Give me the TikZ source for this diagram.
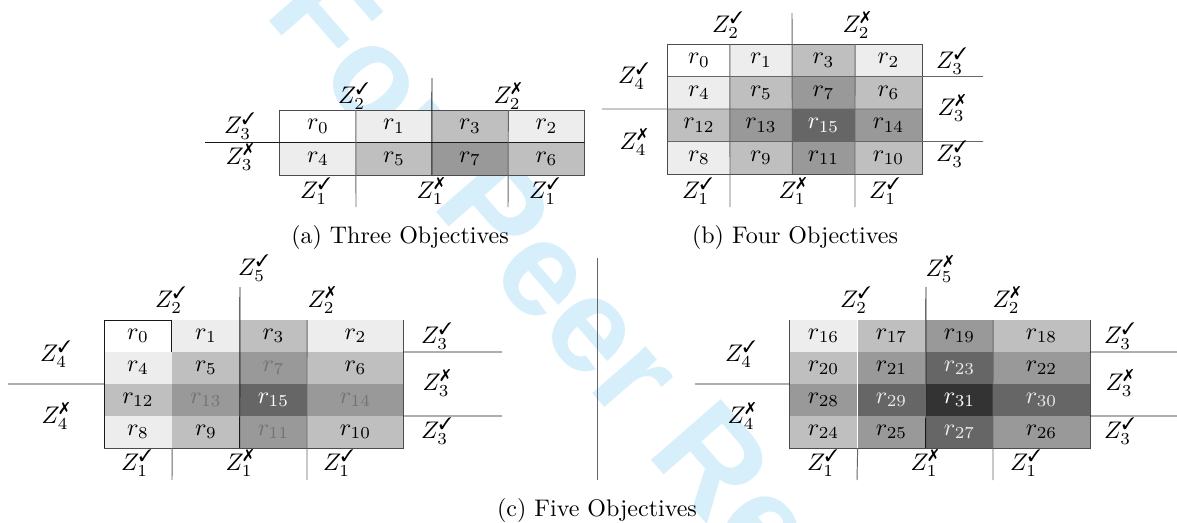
\documentclass[tikz,border=0pt]{standalone}
\usepackage{amsmath,amssymb}
\usepackage{pifont}
\usepackage{fontspec}
\newfontfamily\wmfont{Liberation Sans}
\usepackage{tikz}
\usetikzlibrary{positioning}
\definecolor{wmBlue}{HTML}{D6EFFB}
\newcommand{\cmark}{\text{\ding{51}}}
\newcommand{\xmark}{\text{\ding{55}}}

\begin{document}
\begin{tikzpicture}[
    x=0.4167pt, y=-0.4167pt,
    cell/.style={inner sep=0pt, outer sep=0pt, font=\normalsize},
    ca/.style={cell, minimum width=31.8pt, minimum height=13.54pt},
    cb/.style={cell, minimum width=25.9pt, minimum height=13.54pt},
    cbw/.style={cell, minimum width=27.9pt, minimum height=13.54pt},
    cc/.style={cell, minimum width=28.2pt, minimum height=13.33pt},
    ccw/.style={cell, minimum width=40.4pt, minimum height=13.33pt},
    g0/.style={fill=white},
    g1/.style={fill=black!7},
    g2/.style={fill=black!25},
    g3/.style={fill=black!40},
    g4/.style={fill=black!60, text=white},
    g5/.style={fill=black!80, text=white},
    lab/.style={inner sep=1pt},
    divider/.style={draw=black!90, thin},
    subline/.style={draw=black!60, thin},
    frame/.style={draw=black!70, thin},
    wm/.style={text=wmBlue, font=\wmfont\bfseries\fontsize{56}{56}\selectfont}
  ]
  \useasboundingbox (0,0) rectangle (1177,522);

  % watermark
  \node[wm, rotate=-49, anchor=base west] (wmark) at (258,8) {For Peer Review};

  % (a) three objectives
  \node[ca, g0] (a0) at (318,126.25) {$r_{0}$};
  \node[ca, g1] (a1) at (394,126.25) {$r_{1}$};
  \node[ca, g2] (a3) at (470,126.25) {$r_{3}$};
  \node[ca, g1] (a2) at (546.5,126.25) {$r_{2}$};
  \node[ca, g1] (a4) at (318,158.75) {$r_{4}$};
  \node[ca, g2] (a5) at (394,158.75) {$r_{5}$};
  \node[ca, g3] (a7) at (470,158.75) {$r_{7}$};
  \node[ca, g2] (a6) at (546.5,158.75) {$r_{6}$};
  \draw[frame] (a0.north west) rectangle (a6.south east);

  \coordinate (a-z3) at (205,142.5);
  \coordinate (a-z2) at (432,78);
  \coordinate (a-z1l) at (356,207);
  \coordinate (a-z1r) at (508,207);
  \draw[divider] (a-z3) -- (a2.south east);
  \draw[divider] (a-z2) -- (a7.south west);
  \draw[subline] (a1.north west) -- (a-z1l);
  \draw[subline] (a2.north west) -- (a-z1r);

  \node[lab] (a-l3t) at (240,126) {$Z_3^{\cmark}$};
  \node[lab] (a-l3f) at (240,157) {$Z_3^{\xmark}$};
  \node[lab] (a-l2t) at (354,96) {$Z_2^{\cmark}$};
  \node[lab] (a-l2f) at (508,96) {$Z_2^{\xmark}$};
  \node[lab] (a-l1a) at (316,191) {$Z_1^{\cmark}$};
  \node[lab] (a-l1b) at (431,191) {$Z_1^{\xmark}$};
  \node[lab] (a-l1c) at (545,191) {$Z_1^{\cmark}$};
  \node (capa) at (400,237) {(a) Three Objectives};

  % (b) four objectives
  \node[cb, g0] (b0) at (699,60.25) {$r_{0}$};
  \node[cb, g1] (b1) at (761,60.25) {$r_{1}$};
  \node[cb, g2] (b3) at (823.5,60.25) {$r_{3}$};
  \node[cbw, g1] (b2) at (888.5,60.25) {$r_{2}$};
  \node[cb, g1] (b4) at (699,92.75) {$r_{4}$};
  \node[cb, g2] (b5) at (761,92.75) {$r_{5}$};
  \node[cb, g3] (b7) at (823.5,92.75) {$r_{7}$};
  \node[cbw, g2] (b6) at (888.5,92.75) {$r_{6}$};
  \node[cb, g2] (b12) at (699,125.25) {$r_{12}$};
  \node[cb, g3] (b13) at (761,125.25) {$r_{13}$};
  \node[cb, g4] (b15) at (823.5,125.25) {$r_{15}$};
  \node[cbw, g3] (b14) at (888.5,125.25) {$r_{14}$};
  \node[cb, g1] (b8) at (699,157.75) {$r_{8}$};
  \node[cb, g2] (b9) at (761,157.75) {$r_{9}$};
  \node[cb, g3] (b11) at (823.5,157.75) {$r_{11}$};
  \node[cbw, g2] (b10) at (888.5,157.75) {$r_{10}$};
  \draw[frame] (b0.north west) rectangle (b10.south east);

  \coordinate (b-z2) at (792,13);
  \coordinate (b-z4) at (602,109);
  \coordinate (b-z3t) at (983,76.5);
  \coordinate (b-z3b) at (983,141.5);
  \coordinate (b-z1l) at (730,207);
  \coordinate (b-z1r) at (855,207);
  \draw[subline] (b-z2) -- (b11.south west);
  \draw[subline] (b-z4) -- (b14.north east);
  \draw[subline] (b0.south west) -- (b-z3t);
  \draw[subline] (b8.north west) -- (b-z3b);
  \draw[subline] (b1.north west) -- (b-z1l);
  \draw[subline] (b2.north west) -- (b-z1r);

  \node[lab] (b-l2t) at (728,25) {$Z_2^{\cmark}$};
  \node[lab] (b-l2f) at (857,25) {$Z_2^{\xmark}$};
  \node[lab] (b-l4t) at (634,76) {$Z_4^{\cmark}$};
  \node[lab] (b-l4f) at (634,142) {$Z_4^{\xmark}$};
  \node[lab] (b-l3a) at (952,61) {$Z_3^{\cmark}$};
  \node[lab] (b-l3b) at (952,108) {$Z_3^{\xmark}$};
  \node[lab] (b-l3c) at (952,154) {$Z_3^{\cmark}$};
  \node[lab] (b-l1a) at (698,191) {$Z_1^{\cmark}$};
  \node[lab] (b-l1b) at (793,191) {$Z_1^{\xmark}$};
  \node[lab] (b-l1c) at (885,191) {$Z_1^{\cmark}$};
  \node (capb) at (795,237) {(b) Four Objectives};

  % (c) five objectives, left half
  \node[cc, g0] (cl0) at (138,336) {$r_{0}$};
  \node[cc, g1] (cl1) at (206,336) {$r_{1}$};
  \node[cc, g2] (cl3) at (273.5,336) {$r_{3}$};
  \node[ccw, g1] (cl2) at (355.5,336) {$r_{2}$};
  \node[cc, g1] (cl4) at (138,368) {$r_{4}$};
  \node[cc, g2] (cl5) at (206,368) {$r_{5}$};
  \node[cc, g3, text=black!55] (cl7) at (273.5,368) {$r_{7}$};
  \node[ccw, g2] (cl6) at (355.5,368) {$r_{6}$};
  \node[cc, g2] (cl12) at (138,400) {$r_{12}$};
  \node[cc, g3, text=black!55] (cl13) at (206,400) {$r_{13}$};
  \node[cc, g4] (cl15) at (273.5,400) {$r_{15}$};
  \node[ccw, g3, text=black!55] (cl14) at (355.5,400) {$r_{14}$};
  \node[cc, g1] (cl8) at (138,432) {$r_{8}$};
  \node[cc, g2] (cl9) at (206,432) {$r_{9}$};
  \node[cc, g3, text=black!55] (cl11) at (273.5,432) {$r_{11}$};
  \node[ccw, g2] (cl10) at (355.5,432) {$r_{10}$};
  \draw[frame] (cl2.north east) -- (cl10.south east) -- (cl8.south west);
  \draw[divider] (cl8.south west) -- (cl0.north west) -- (cl0.north east) -- (cl0.south east);

  \coordinate (cl-z5) at (240,287);
  \coordinate (cl-z4) at (8,384);
  \coordinate (cl-z3t) at (502,352);
  \coordinate (cl-z3b) at (502,416);
  \coordinate (cl-z1l) at (172,480);
  \coordinate (cl-z1r) at (307,480);
  \draw[divider] (cl-z5) -- (cl11.south west);
  \draw[divider] (cl-z4) -- (cl12.north west);
  \draw[divider] (cl2.south east) -- (cl-z3t);
  \draw[divider] (cl14.south east) -- (cl-z3b);
  \draw[subline] (cl9.south west) -- (cl-z1l);
  \draw[subline] (cl2.north west) -- (cl-z1r);

  \node[lab] (cl-l5) at (254,268) {$Z_5^{\cmark}$};
  \node[lab] (cl-l2t) at (171,300) {$Z_2^{\cmark}$};
  \node[lab] (cl-l2f) at (322,300) {$Z_2^{\xmark}$};
  \node[lab] (cl-l4t) at (56,354) {$Z_4^{\cmark}$};
  \node[lab] (cl-l4f) at (56,416) {$Z_4^{\xmark}$};
  \node[lab] (cl-l3a) at (437,336) {$Z_3^{\cmark}$};
  \node[lab] (cl-l3b) at (437,383) {$Z_3^{\xmark}$};
  \node[lab] (cl-l3c) at (437,431) {$Z_3^{\cmark}$};
  \node[lab] (cl-l1a) at (137,463) {$Z_1^{\cmark}$};
  \node[lab] (cl-l1b) at (240,463) {$Z_1^{\xmark}$};
  \node[lab] (cl-l1c) at (339,463) {$Z_1^{\cmark}$};

  % separator
  \coordinate (sep-top) at (597,258);
  \coordinate (sep-bot) at (597,480);
  \draw[subline] (sep-top) -- (sep-bot);

  % (c) five objectives, right half
  \node[cc, g1] (cr16) at (823.5,336) {$r_{16}$};
  \node[cc, g2] (cr17) at (891.5,336) {$r_{17}$};
  \node[cc, g3] (cr19) at (959.5,336) {$r_{19}$};
  \node[ccw, g2] (cr18) at (1041.5,336) {$r_{18}$};
  \node[cc, g2] (cr20) at (823.5,368) {$r_{20}$};
  \node[cc, g3] (cr21) at (891.5,368) {$r_{21}$};
  \node[cc, g4, text=black!8] (cr23) at (959.5,368) {$r_{23}$};
  \node[ccw, g3] (cr22) at (1041.5,368) {$r_{22}$};
  \node[cc, g3] (cr28) at (823.5,400) {$r_{28}$};
  \node[cc, g4, text=black!8] (cr29) at (891.5,400) {$r_{29}$};
  \node[cc, g5] (cr31) at (959.5,400) {$r_{31}$};
  \node[ccw, g4, text=black!8] (cr30) at (1041.5,400) {$r_{30}$};
  \node[cc, g2] (cr24) at (823.5,432) {$r_{24}$};
  \node[cc, g3] (cr25) at (891.5,432) {$r_{25}$};
  \node[cc, g4, text=black!8] (cr27) at (959.5,432) {$r_{27}$};
  \node[ccw, g3] (cr26) at (1041.5,432) {$r_{26}$};
  \draw[frame] (cr16.north west) -- (cr24.south west) -- (cr26.south east) -- (cr18.north east);

  \coordinate (cr-z5) at (926,287);
  \coordinate (cr-z4) at (695,384);
  \coordinate (cr-z3t) at (1177,352);
  \coordinate (cr-z3b) at (1177,416);
  \coordinate (cr-z1l) at (857,480);
  \coordinate (cr-z1r) at (993,480);
  \draw[divider] (cr-z5) -- (cr27.south west);
  \draw[divider] (cr-z4) -- (cr28.north west);
  \draw[divider] (cr18.south east) -- (cr-z3t);
  \draw[divider] (cr30.south east) -- (cr-z3b);
  \draw[subline] (cr25.south west) -- (cr-z1l);
  \draw[subline] (cr18.north west) -- (cr-z1r);

  \node[lab] (cr-l5) at (940,269) {$Z_5^{\xmark}$};
  \node[lab] (cr-l2t) at (856,300) {$Z_2^{\cmark}$};
  \node[lab] (cr-l2f) at (1007,300) {$Z_2^{\xmark}$};
  \node[lab] (cr-l4t) at (741,354) {$Z_4^{\cmark}$};
  \node[lab] (cr-l4f) at (742,416) {$Z_4^{\xmark}$};
  \node[lab] (cr-l3a) at (1120,336) {$Z_3^{\cmark}$};
  \node[lab] (cr-l3b) at (1120,383) {$Z_3^{\xmark}$};
  \node[lab] (cr-l3c) at (1120,431) {$Z_3^{\cmark}$};
  \node[lab] (cr-l1a) at (823,463) {$Z_1^{\cmark}$};
  \node[lab] (cr-l1b) at (925,463) {$Z_1^{\xmark}$};
  \node[lab] (cr-l1c) at (1026,463) {$Z_1^{\cmark}$};
  \node (capc) at (597,510) {(c) Five Objectives};
\end{tikzpicture}
\end{document}
